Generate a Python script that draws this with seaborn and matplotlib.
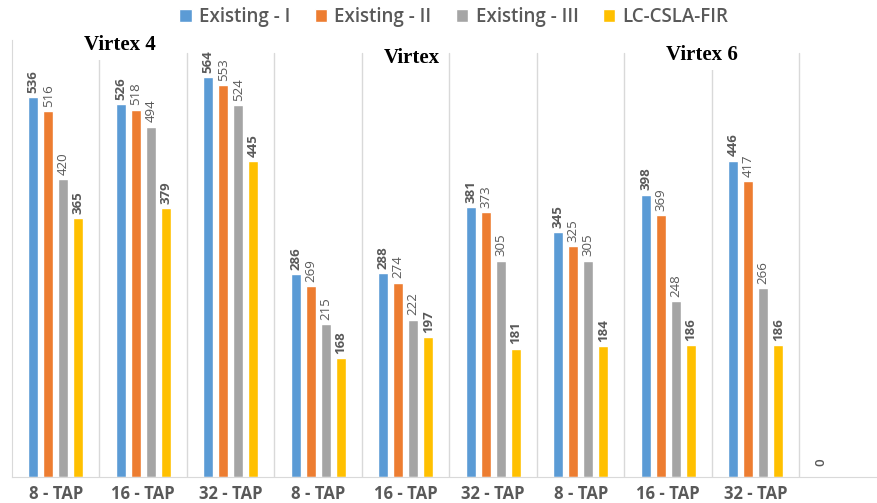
import numpy as np
import pandas as pd
import matplotlib
matplotlib.use("Agg")
import matplotlib.pyplot as plt
import seaborn as sns

# data
categories = ["V4-8", "V4-16", "V4-32", "V-8", "V-16", "V-32", "V6-8", "V6-16", "V6-32", "empty"]
tick_labels = ["8 - TAP", "16 - TAP", "32 - TAP"] * 3 + [""]
series = ["Existing - I", "Existing - II", "Existing - III", "LC-CSLA-FIR"]
existing_1 = [536, 526, 564, 286, 288, 381, 345, 398, 446, 0]
existing_2 = [516, 518, 553, 269, 274, 373, 325, 369, 417, np.nan]
existing_3 = [420, 494, 524, 215, 222, 305, 305, 248, 266, np.nan]
lc_csla_fir = [365, 379, 445, 168, 197, 181, 184, 186, 186, np.nan]
group_titles = ["Virtex 4", "Virtex", "Virtex 6"]

colors = ["#5B9BD5", "#ED7D31", "#A5A5A5", "#FFC000"]
text_gray = "#595959"
line_gray = "#D9D9D9"

values = [existing_1, existing_2, existing_3, lc_csla_fir]
df = pd.DataFrame({
    "category": categories * len(series),
    "series": np.repeat(series, len(categories)),
    "value": np.concatenate(values),
})

sns.set_style("white")
plt.rcParams["font.family"] = ["Open Sans", "DejaVu Sans"]

W, H = 877, 503
fig = plt.figure(figsize=(W / 100, H / 100), dpi=100)
ax = fig.add_axes([12 / W, 26 / H, 1 - 12 / W, 437 / H])

sns.barplot(data=df, x="category", y="value", hue="series", order=categories,
            hue_order=series, palette=colors, saturation=1, width=0.686, gap=0.33,
            ax=ax, legend=True)

ax.set_xlim(-0.5, (W - 12) / 87.5 - 0.5)
ax.set_ylim(0, 616)

# value labels above bars
for i, cont in enumerate(ax.containers):
    weight = "bold" if i in (0, 3) else "normal"
    for bar in cont:
        if bar is None:
            continue
        h = bar.get_height()
        if np.isnan(h):
            continue
        ax.annotate(f"{int(round(h))}", (bar.get_x() + bar.get_width() / 2, h),
                    xytext=(0, 3 if h > 0 else 8), textcoords="offset points",
                    rotation=90, ha="center", va="bottom", fontsize=9.5,
                    color=text_gray, fontweight=weight if h > 0 else "semibold")

# separators between categories
for i in range(len(categories) - 1):
    ax.axvline(i + 0.5, ymax=0.97, color=line_gray, lw=1, zorder=0)

for s in ["top", "right"]:
    ax.spines[s].set_visible(False)
ax.spines["left"].set_color(line_gray)
ax.spines["bottom"].set_color(line_gray)

ax.set_xticks(range(len(categories)))
ax.set_xticklabels(tick_labels, fontsize=12, fontweight="bold", color=text_gray)
ax.tick_params(axis="x", length=0, pad=6)
ax.set_yticks([])
ax.set_xlabel("")
ax.set_ylabel("")

# group titles
for title, (px, py) in zip(group_titles, [(120, 45), (412, 58), (702, 55)]):
    fig.text(px / W, 1 - py / H, title, ha="center", va="center", fontsize=15,
             fontweight="bold", family="Liberation Serif", color="black",
             bbox=dict(boxstyle="square,pad=0.25", fc="white", ec="none"))

handles, labels = ax.get_legend_handles_labels()
ax.legend(handles, labels, ncol=4, loc="center", bbox_to_anchor=(454 / W, 1 - 17 / H),
          bbox_transform=fig.transFigure, frameon=False, handlelength=0.65,
          handleheight=0.65, handletextpad=0.4, columnspacing=1.3,
          prop={"size": 13.5, "weight": "semibold"}, labelcolor=text_gray)

fig.savefig("out.png", dpi=100)
